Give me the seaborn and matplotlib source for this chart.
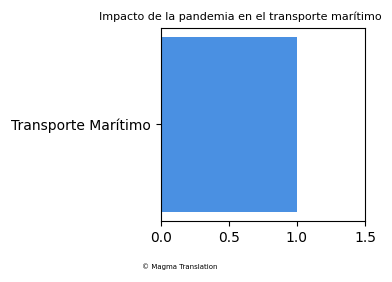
import matplotlib
matplotlib.use("Agg")
import matplotlib.pyplot as plt
import seaborn as sns
import pandas as pd

categories = ["Transporte Marítimo"]
values = [1.0]

df = pd.DataFrame({"categoria": categories, "valor": values})

fig = plt.figure(figsize=(3.92, 2.82), dpi=100)
ax = fig.add_axes([0.410, 0.217, 0.521, 0.684])
sns.barplot(data=df, x="valor", y="categoria", color="#4A90E2", saturation=1, width=0.8, ax=ax)
ax.set_xlim(0, 1.5)
ax.set_ylim(0.44, -0.44)
ax.set_xticks([0, 0.5, 1.0, 1.5])
ax.set_xlabel("")
ax.set_ylabel("")
ax.set_title("Impacto de la pandemia en el transporte marítimo", fontsize=8, x=0.39)
fig.text(0.362, 0.045, "© Magma Translation", fontsize=5)
fig.savefig("out.png", dpi=100)
